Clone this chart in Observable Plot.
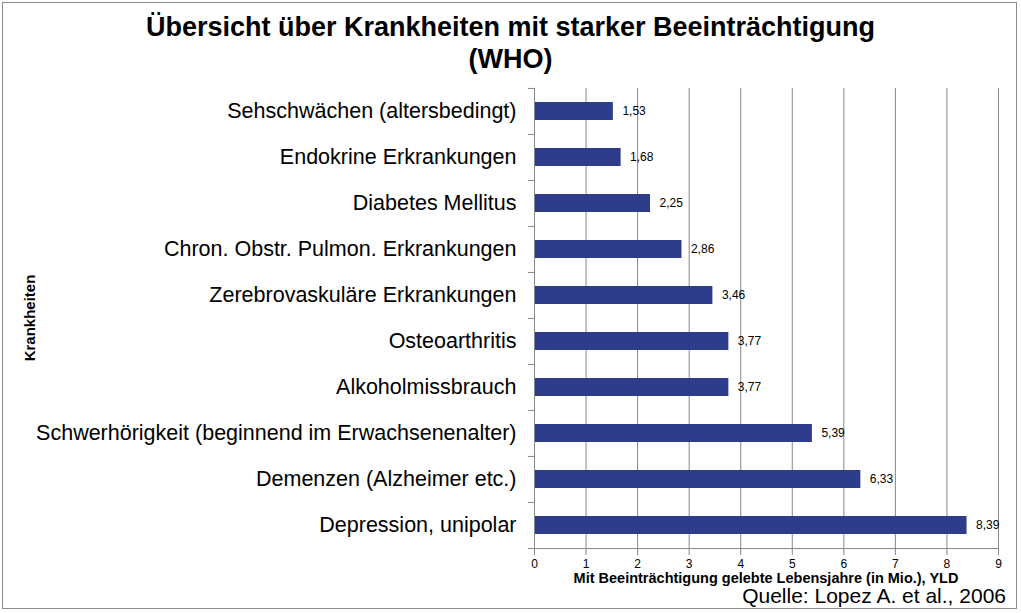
<!DOCTYPE html>
<html lang="de">
<head>
<meta charset="utf-8">
<script src="https://cdn.jsdelivr.net/npm/d3@7"></script>
<script src="https://cdn.jsdelivr.net/npm/@observablehq/plot@0.6"></script>
<style>
  html, body { margin: 0; padding: 0; background: #fff; }
  #chart { position: relative; width: 1021px; height: 613px; font-family: "Liberation Sans", Arial, sans-serif; }
  #frame { position: absolute; left: 2px; top: 2px; width: 1015px; height: 607px; border: 1px solid #8c8c8c; box-sizing: border-box; pointer-events: none; }
  #title { position: absolute; left: 0; width: 1021px; top: 11px; text-align: center; font-weight: bold; font-size: 27px; line-height: 32px; color: #000; }
  #ylabel { position: absolute; left: 29px; top: 318px; transform: translate(-50%, -50%) rotate(-90deg); font-weight: bold; font-size: 15px; white-space: nowrap; }
  #xlabel { position: absolute; left: 766px; top: 572px; transform: translateX(-50%); font-weight: bold; font-size: 14.5px; line-height: 13px; white-space: nowrap; }
  #source { position: absolute; right: 15px; top: 586px; font-size: 21px; line-height: 20px; white-space: nowrap; }
  svg { position: absolute; left: 0; top: 0; }
</style>
</head>
<body>
<div id="chart">
  <div id="title">Übersicht über Krankheiten mit starker Beeinträchtigung<br>(WHO)</div>
  <div id="ylabel">Krankheiten</div>
  <div id="xlabel">Mit Beeinträchtigung gelebte Lebensjahre (in Mio.), YLD</div>
  <div id="source">Quelle: Lopez A. et al., 2006</div>
  <div id="frame"></div>
</div>
<script>
// Krankheiten (von oben nach unten) und YLD in Millionen
const categories = [
  "Sehschwächen (altersbedingt)",
  "Endokrine Erkrankungen",
  "Diabetes Mellitus",
  "Chron. Obstr. Pulmon. Erkrankungen",
  "Zerebrovaskuläre Erkrankungen",
  "Osteoarthritis",
  "Alkoholmissbrauch",
  "Schwerhörigkeit (beginnend im Erwachsenenalter)",
  "Demenzen (Alzheimer etc.)",
  "Depression, unipolar"
];
const values = [1.53, 1.68, 2.25, 2.86, 3.46, 3.77, 3.77, 5.39, 6.33, 8.39];
const xTicks = [0, 1, 2, 3, 4, 5, 6, 7, 8, 9];

const data = categories.map((name, i) => ({name, value: values[i]}));
const fmt = v => v.toFixed(2).replace(".", ",");

const marginTop = 88, marginBottom = 64;
const height = 613;
const step = (height - marginTop - marginBottom) / categories.length;
const axisGray = "#868686";
const last = categories[categories.length - 1];

const chart = Plot.plot({
  width: 1021,
  height,
  marginTop,
  marginBottom,
  marginLeft: 534,
  marginRight: 23,
  style: {fontFamily: "'Liberation Sans', Arial, sans-serif", background: "transparent"},
  x: {domain: [0, 9], ticks: xTicks},
  y: {domain: categories, paddingInner: 0.6, paddingOuter: 0.3},
  marks: [
    Plot.gridX(xTicks.slice(1), {stroke: axisGray, strokeOpacity: 1, strokeWidth: 1}),
    Plot.barX(data, {x: "value", y: "name", fill: "#2d3d8b"}),
    Plot.text(data, {x: "value", y: "name", text: d => fmt(d.value), dx: 9, textAnchor: "start", fontSize: 12, fill: "#000"}),
    // Achsenlinien
    Plot.ruleX([0], {stroke: axisGray}),
    Plot.ruleY([last], {y: d => d, dy: step / 2, stroke: axisGray}),
    // Teilstriche zwischen den Kategorien
    Plot.ruleY(categories, {y: d => d, x1: 0, x2: 0, insetLeft: -6, dy: -step / 2, stroke: axisGray}),
    Plot.ruleY([last], {y: d => d, x1: 0, x2: 0, insetLeft: -6, dy: step / 2, stroke: axisGray}),
    Plot.axisX(xTicks, {tickSize: 6, tickPadding: 4, label: null, fontSize: 12, stroke: axisGray, fill: "#000", tickFormat: d => String(d)}),
    Plot.axisY({tickSize: 0, tickPadding: 18, label: null, fontSize: 21.5, fill: "#000"})
  ]
});
document.getElementById("chart").prepend(chart);
</script>
</body>
</html>
